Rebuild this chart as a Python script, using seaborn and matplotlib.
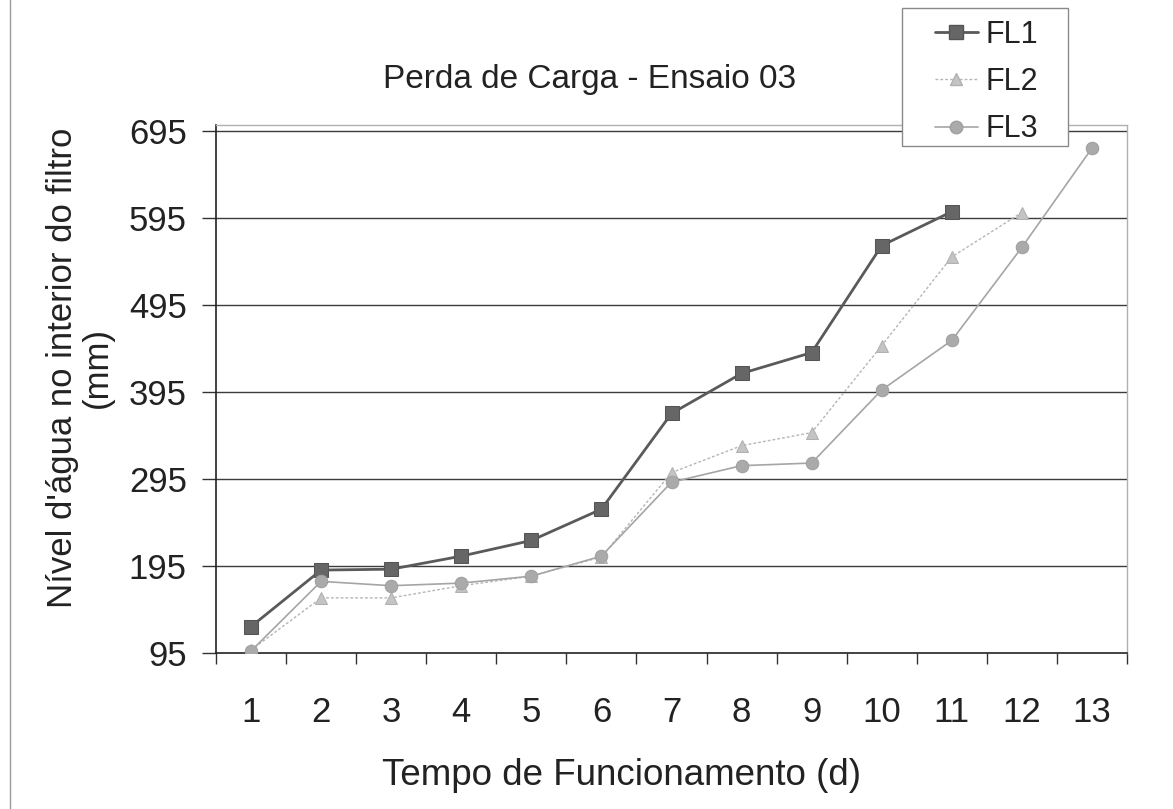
import numpy as np
import pandas as pd
import matplotlib
matplotlib.use("Agg")
import matplotlib.pyplot as plt
from matplotlib.lines import Line2D
from matplotlib.patches import Rectangle
import seaborn as sns

# Nível d'água (mm) por dia de funcionamento
dias = list(range(1, 14))
fl1 = [125, 190, 191, 206, 224, 260, 370, 416, 440, 563, 602]
fl2 = [98, 158, 158, 172, 183, 205, 302, 333, 348, 448, 550, 601]
fl3 = [97, 177, 172, 175, 183, 206, 291, 310, 313, 397, 454, 561, 675]
y_ticks = [95, 195, 295, 395, 495, 595, 695]

sns.set_theme(style="white")
plt.rcParams["font.family"] = ["Liberation Sans", "DejaVu Sans"]

W, H = 1173, 809
fig = plt.figure(figsize=(W / 100, H / 100), dpi=100)
fig.patch.set_facecolor("white")
ax = fig.add_axes([216 / W, 1 - 652.7 / H, (1127 - 216) / W, (652.7 - 125) / H])
ax.set_facecolor("white")

series = [
    ("FL1", fl1, dict(color="#5a5a5a", marker="s", markersize=10, linewidth=2.0,
                      linestyle="-", markerfacecolor="#666666", markeredgecolor="#555555")),
    ("FL2", fl2, dict(color="#b5b5b5", marker="^", markersize=9, linewidth=1.0,
                      linestyle=(0, (2, 1.5)), markerfacecolor="#c4c4c4", markeredgecolor="#b0b0b0")),
    ("FL3", fl3, dict(color="#a5a5a5", marker="o", markersize=9, linewidth=1.2,
                      linestyle="-", markerfacecolor="#aaaaaa", markeredgecolor="#a0a0a0")),
]

handles = []
for name, vals, kw in series:
    df = pd.DataFrame({"dia": dias[:len(vals)], "nivel": vals})
    sns.lineplot(data=df, x="dia", y="nivel", ax=ax, label=name, zorder=3, **kw)
    handles.append(Line2D([], [], **kw))
ax.get_legend().remove()

# horizontal grid
for v in y_ticks[1:]:
    ax.axhline(v, color="#3c3c3c", linewidth=1.0, zorder=1)

ax.set_xlim(0.5, 13.5)
ax.set_ylim(95, 701.6)
ax.set_xticks(dias)
ax.set_xticklabels([str(d) for d in dias])
ax.set_xticks(np.arange(0.5, 14, 1.0), minor=True)
ax.set_yticks(y_ticks)
ax.tick_params(axis="x", which="major", length=0, pad=31, labelsize=25, labelcolor="#222222")
ax.tick_params(axis="x", which="minor", length=8, width=1, color="#333333", direction="out", bottom=True)
ax.tick_params(axis="y", which="major", length=10, width=1, color="#333333", direction="out",
               left=True, pad=11, labelsize=25, labelcolor="#222222")

for side in ["left", "bottom"]:
    ax.spines[side].set_color("#222222")
    ax.spines[side].set_linewidth(1.2)
for side in ["top", "right"]:
    ax.spines[side].set_color("#b0b0b0")
    ax.spines[side].set_linewidth(1.0)
    ax.spines[side].set_linestyle((0, (2, 1)))

ax.set_xlabel("")
ax.set_ylabel("")

fig.text(590 / W, 1 - 88 / H, "Perda de Carga - Ensaio 03", ha="center", va="baseline",
         fontsize=24, color="#222222")
fig.text(622 / W, 1 - 785 / H, "Tempo de Funcionamento (d)", ha="center", va="baseline",
         fontsize=26.5, color="#222222")
fig.text(80 / W, 1 - 368 / H, "Nível d'água no interior do filtro\n(mm)", ha="center",
         va="center", rotation=90, fontsize=25, color="#222222", linespacing=1.1)

# legend frame and entries
fig.add_artist(Rectangle((902 / W, 1 - 146 / H), (1068 - 902) / W, (146 - 8) / H,
                         transform=fig.transFigure, facecolor="white", edgecolor="#8a8a8a",
                         linewidth=1.0, zorder=9))
leg = fig.legend(handles=handles, labels=[s[0] for s in series], loc="upper left",
                 bbox_to_anchor=(935 / W, 1 - 20 / H), bbox_transform=fig.transFigure,
                 frameon=False, fontsize=22, handlelength=1.4, handletextpad=0.25,
                 labelspacing=0.56, borderpad=0, borderaxespad=0)
leg.set_zorder(10)
for t in leg.get_texts():
    t.set_color("#222222")

# chart area left border
fig.add_artist(Line2D([10 / W, 10 / W], [0, 1], transform=fig.transFigure,
                      color="#9a9a9a", linewidth=1.0))

fig.savefig("out.png", dpi=100, facecolor="white")
